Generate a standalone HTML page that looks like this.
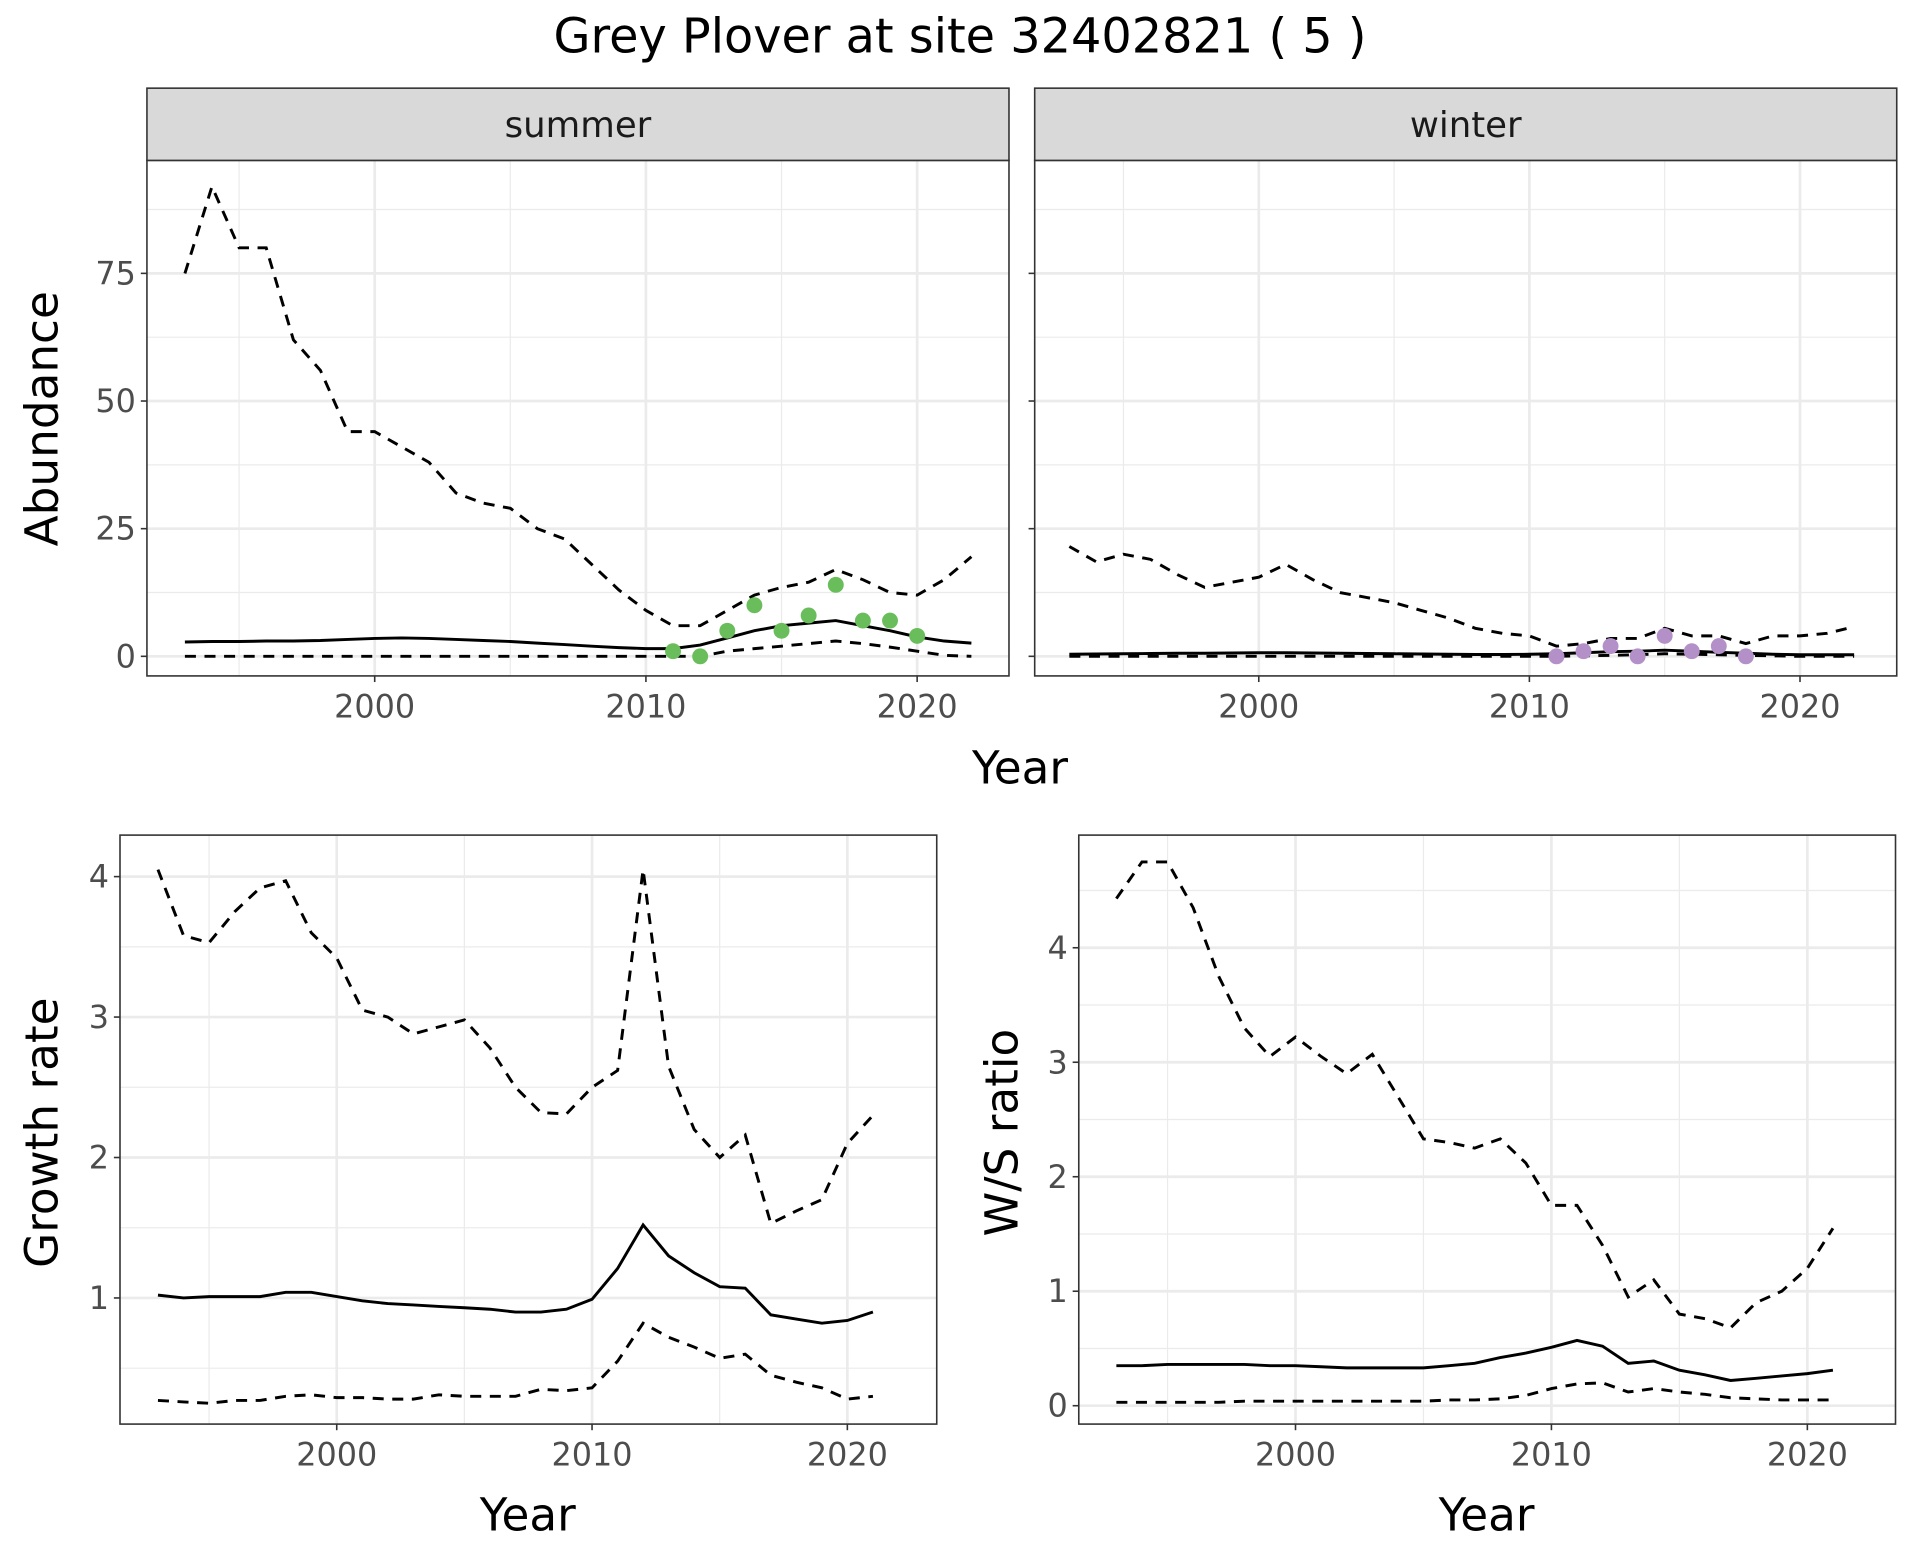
<!DOCTYPE html>
<html><head><meta charset="utf-8"><style>
html,body{margin:0;padding:0;background:#fff}
svg{display:block}
text{font-family:"DejaVu Sans","Liberation Sans",sans-serif}
</style></head><body>
<svg id="chart" width="1920" height="1560" viewBox="0 0 1568 1274" preserveAspectRatio="none" xmlns="http://www.w3.org/2000/svg">
<rect width="1568" height="1274" fill="#fff"/>
<text x="784" y="43" font-size="39" text-anchor="middle" fill="#000">Grey Plover at site 32402821 ( 5 )</text>
</svg>
<script>
const yearsA = [1993,1994,1995,1996,1997,1998,1999,2000,2001,2002,2003,2004,2005,2006,2007,2008,2009,2010,2011,2012,2013,2014,2015,2016,2017,2018,2019,2020,2021,2022];
const summerMean = [2.8,2.9,2.9,3,3,3.1,3.3,3.5,3.6,3.5,3.3,3.1,2.9,2.6,2.3,2,1.7,1.5,1.5,2.2,3.6,5,6,6.5,7,6,5,3.8,3,2.6];
const summerUpper = [75,92,80,80,62,56,44,44,41,38,32,30,29,25,23,18,13,9,6,6,9,12,13.5,14.5,17,15,12.5,12,15,19.5];
const summerLower = [0,0,0,0,0,0,0,0,0,0,0,0,0,0,0,0,0,0,0,0,1,1.5,2,2.5,3,2.5,1.8,1,0.2,0];
const summerObsYears = [2011,2012,2013,2014,2015,2016,2017,2018,2019,2020];
const summerObs = [1,0,5,10,5,8,14,7,7,4];
const winterMean = [0.4,0.45,0.5,0.55,0.6,0.6,0.65,0.7,0.7,0.65,0.6,0.55,0.5,0.45,0.4,0.35,0.35,0.4,0.5,0.7,0.9,1.0,1.2,1.0,0.8,0.6,0.4,0.3,0.3,0.3];
const winterUpper = [21.5,18.5,20,19,16,13.5,14.5,15.5,18,15,12.5,11.5,10.5,9,7.5,5.5,4.5,4,2,2.5,3.5,3.5,5.5,4,4,2.5,4,4,4.5,5.8];
const winterLower = [0,0,0,0,0,0,0,0,0,0,0,0,0,0,0,0,0,0,0,0.1,0.2,0.3,0.5,0.4,0.3,0.2,0.1,0,0,0];
const winterObsYears = [2011,2012,2013,2014,2015,2016,2017,2018];
const winterObs = [0,1,2,0,4,1,2,0];
const yearsB = [1993,1994,1995,1996,1997,1998,1999,2000,2001,2002,2003,2004,2005,2006,2007,2008,2009,2010,2011,2012,2013,2014,2015,2016,2017,2018,2019,2020,2021];
const growthMean = [1.02,1.0,1.01,1.01,1.01,1.04,1.04,1.01,0.98,0.96,0.95,0.94,0.93,0.92,0.9,0.9,0.92,0.99,1.21,1.52,1.3,1.18,1.08,1.07,0.88,0.85,0.82,0.84,0.9];
const growthUpper = [4.05,3.58,3.53,3.75,3.92,3.97,3.6,3.42,3.05,3.0,2.88,2.93,2.98,2.78,2.5,2.32,2.31,2.5,2.62,4.05,2.65,2.2,2.0,2.16,1.53,1.62,1.7,2.1,2.3];
const growthLower = [0.27,0.26,0.25,0.27,0.27,0.3,0.31,0.29,0.29,0.28,0.28,0.31,0.3,0.3,0.3,0.35,0.34,0.36,0.55,0.82,0.72,0.65,0.57,0.6,0.45,0.4,0.36,0.28,0.3];
const wsMean = [0.35,0.35,0.36,0.36,0.36,0.36,0.35,0.35,0.34,0.33,0.33,0.33,0.33,0.35,0.37,0.42,0.46,0.51,0.57,0.52,0.37,0.39,0.31,0.27,0.22,0.24,0.26,0.28,0.31];
const wsUpper = [4.43,4.75,4.75,4.35,3.75,3.3,3.05,3.22,3.05,2.9,3.07,2.7,2.33,2.3,2.25,2.33,2.12,1.75,1.75,1.4,0.95,1.1,0.8,0.76,0.68,0.9,1.0,1.2,1.55];
const wsLower = [0.03,0.03,0.03,0.03,0.03,0.04,0.04,0.04,0.04,0.04,0.04,0.04,0.04,0.05,0.05,0.06,0.09,0.15,0.19,0.2,0.12,0.15,0.12,0.1,0.07,0.06,0.05,0.05,0.05];
const xTicks = [2000,2010,2020];
const xMinor = [1995,2005,2015];
const abTicks = [0,25,50,75];
const abMinor = [12.5,37.5,62.5,87.5];
const grTicks = [1,2,3,4];
const grMinor = [0.5,1.5,2.5,3.5];
const wsTicks = [0,1,2,3,4];
const wsMinor = [0.5,1.5,2.5,3.5,4.5];

const svg = document.getElementById('chart');
const NS = 'http://www.w3.org/2000/svg';
function mk(tag, attrs, parent){const e=document.createElementNS(NS,tag);for(const k in attrs)e.setAttribute(k,attrs[k]);(parent||svg).appendChild(e);return e;}

function panel(cfg){
  const g = mk('g',{});
  
  
  const sx = v => cfg.x0 + (v - cfg.xa) * cfg.xs;
  const sy = v => cfg.y0 - (v - cfg.ya) * cfg.ys;
  mk('rect',{x:cfg.L,y:cfg.T,width:cfg.R-cfg.L,height:cfg.B-cfg.T,fill:'#fff'},g);
  cfg.yMinor.forEach(v=>{const l=mk('line',{x1:cfg.L,x2:cfg.R,y1:sy(v),y2:sy(v),stroke:'#ebebeb','stroke-width':1},g);});
  xMinor.forEach(v=>{const l=mk('line',{x1:sx(v),x2:sx(v),y1:cfg.T,y2:cfg.B,stroke:'#ebebeb','stroke-width':1},g);});
  cfg.yTicks.forEach(v=>{const l=mk('line',{x1:cfg.L,x2:cfg.R,y1:sy(v),y2:sy(v),stroke:'#ebebeb','stroke-width':2.2},g);});
  xTicks.forEach(v=>{const l=mk('line',{x1:sx(v),x2:sx(v),y1:cfg.T,y2:cfg.B,stroke:'#ebebeb','stroke-width':2.2},g);});
  const line=(ys,dash,nm)=>{
    const d=cfg.years.map((y,i)=>(i?'L':'M')+sx(y).toFixed(1)+','+sy(ys[i]).toFixed(1)).join('');
    const p=mk('path',{d:d,fill:'none',stroke:'#000','stroke-width':2.4});
    if(dash)p.setAttribute('stroke-dasharray','9,7');
    
    
    g.appendChild(p);
  };
  line(cfg.upper,true,'upper-ci-line');
  line(cfg.lower,true,'lower-ci-line');
  line(cfg.mean,false,'mean-line');
  if(cfg.obs){cfg.obsYears.forEach((y,i)=>{const c=mk('circle',{cx:sx(y),cy:sy(cfg.obs[i]),r:6.5,fill:cfg.color},g);});}
  mk('rect',{x:cfg.L,y:cfg.T,width:cfg.R-cfg.L,height:cfg.B-cfg.T,fill:'none',stroke:'#333','stroke-width':1.3},g);
  if(cfg.showY){cfg.yTicks.forEach(v=>{
    mk('line',{x1:cfg.L-5,x2:cfg.L,y1:sy(v),y2:sy(v),stroke:'#333','stroke-width':1.3},g);
    const t=mk('text',{x:cfg.L-9,y:sy(v)+9,'font-size':26,'text-anchor':'end',fill:'#4d4d4d'},g);t.textContent=v;
    });}
  else{cfg.yTicks.forEach(v=>mk('line',{x1:cfg.L-5,x2:cfg.L,y1:sy(v),y2:sy(v),stroke:'#333','stroke-width':1.3},g));}
  xTicks.forEach(v=>{
    mk('line',{x1:sx(v),x2:sx(v),y1:cfg.B,y2:cfg.B+5,stroke:'#333','stroke-width':1.3},g);
    const t=mk('text',{x:sx(v),y:cfg.B+34,'font-size':26,'text-anchor':'middle',fill:'#4d4d4d'},g);t.textContent=v;
    });
  if(cfg.strip){
    const s=mk('rect',{x:cfg.L,y:72,width:cfg.R-cfg.L,height:cfg.T-72,fill:'#d9d9d9',stroke:'#333','stroke-width':1.3},g);
    
    const t=mk('text',{x:(cfg.L+cfg.R)/2,y:112,'font-size':29,'text-anchor':'middle',fill:'#1a1a1a'},g);t.textContent=cfg.strip;
    
  }
}
panel({name:'summer-panel',L:120,R:824,T:131,B:552,x0:306,xa:2000,xs:22.15,y0:536,ya:0,ys:4.17,yTicks:abTicks,yMinor:abMinor,years:yearsA,mean:summerMean,upper:summerUpper,lower:summerLower,obs:summerObs,obsYears:summerObsYears,color:'#6abd5b',showY:true,strip:'summer'});
panel({name:'winter-panel',L:845,R:1549,T:131,B:552,x0:1028,xa:2000,xs:22.1,y0:536,ya:0,ys:4.17,yTicks:abTicks,yMinor:abMinor,years:yearsA,mean:winterMean,upper:winterUpper,lower:winterLower,obs:winterObs,obsYears:winterObsYears,color:'#b391c8',showY:false,strip:'winter'});
panel({name:'growth-rate-panel',L:98,R:765,T:682,B:1163,x0:275,xa:2000,xs:20.85,y0:1060,ya:1,ys:114.7,yTicks:grTicks,yMinor:grMinor,years:yearsB,mean:growthMean,upper:growthUpper,lower:growthLower,showY:true});
panel({name:'ws-ratio-panel',L:881,R:1548,T:682,B:1163,x0:1058,xa:2000,xs:20.9,y0:1148,ya:0,ys:93.5,yTicks:wsTicks,yMinor:wsMinor,years:yearsB,mean:wsMean,upper:wsUpper,lower:wsLower,showY:true});

function label(txt,x,y,rot,nm){const t=mk('text',{x:x,y:y,'font-size':37,'text-anchor':'middle',fill:'#000'});if(rot)t.setAttribute('transform','rotate(-90 '+x+' '+y+')');t.textContent=txt;}
label('Year',833,640,false,'x-axis-title-top');
label('Abundance',47,342,true,'y-axis-title-abundance');
label('Year',431,1250,false,'x-axis-title-growth');
label('Growth rate',47,925,true,'y-axis-title-growth');
label('Year',1214,1250,false,'x-axis-title-ws');
label('W/S ratio',831,925,true,'y-axis-title-ws');
</script>
</body></html>
